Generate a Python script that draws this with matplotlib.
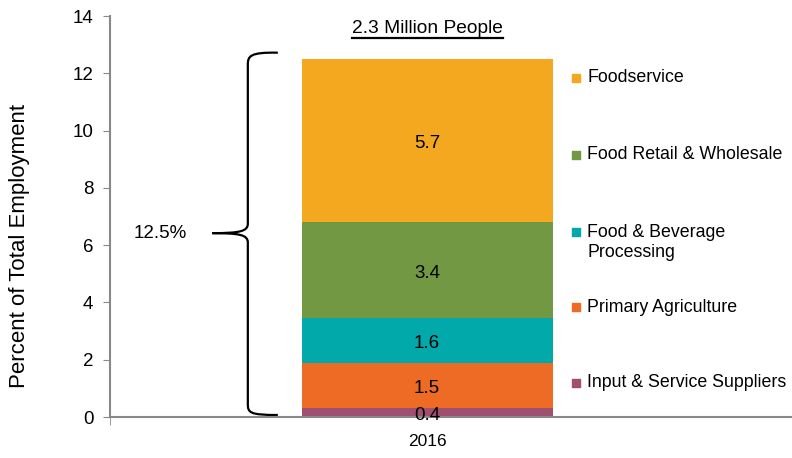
import numpy as np
import matplotlib.pyplot as plt
from matplotlib.path import Path
from matplotlib.patches import PathPatch

plt.rcParams['font.family'] = ['Liberation Sans', 'DejaVu Sans']

# data
year = '2016'
segments = ['Input & Service Suppliers', 'Primary Agriculture',
            'Food & Beverage\nProcessing', 'Food Retail & Wholesale', 'Foodservice']
heights = [0.3, 1.57, 1.58, 3.35, 5.7]
value_labels = ['0.4', '1.5', '1.6', '3.4', '5.7']
colors = ['#A0506E', '#EE6B26', '#01A9AB', '#739843', '#F3A81F']
legend_y = [1.19, 3.84, 6.1, 9.15, 11.84]
total_label = '12.5%'
title = '2.3 Million People'

fig = plt.figure(figsize=(7.92, 4.58), dpi=100)
ax = fig.add_axes([0.139, 0.0895, 0.861, 0.8755])

bar_x = 0.465
bar_w = 0.368
bottom = 0
for h, c, lab in zip(heights, colors, value_labels):
    ax.bar(bar_x, h, bar_w, bottom=bottom, color=c)
    ax.text(bar_x, bottom + h / 2 - 0.1, lab, ha='center', va='center', fontsize=13.5)
    bottom += h

ax.set_xlim(0, 1)
ax.set_ylim(0, 14)
ax.set_yticks(range(0, 15, 2))
ax.set_xticks([bar_x])
ax.set_xticklabels([year])
ax.set_xticks([0, 1], minor=True)
ax.tick_params(axis='x', which='major', length=0, labelsize=12.5, pad=12)
ax.tick_params(axis='x', which='minor', length=6, color='#888888', direction='out')
ax.tick_params(axis='y', labelsize=13.5, length=5, color='#888888', pad=7)
for s in ['top', 'right']:
    ax.spines[s].set_visible(False)
for s in ['left', 'bottom']:
    ax.spines[s].set_color('#888888')
    ax.spines[s].set_linewidth(1.5)
ax.set_ylabel('Percent of Total Employment', fontsize=16)
ax.yaxis.set_label_coords(-0.118, 0.426)

# legend drawn as markers + text
for y, c, name in zip(legend_y, colors, segments):
    ax.scatter([0.683], [y + (0.35 if '\n' in name else 0)], marker='s', s=30, color=c,
               clip_on=False)
    ax.text(0.700, y, name, ha='left', va='center', fontsize=12.8, linespacing=1.2)

# brace
verts = [(0.246, 12.72), (0.205, 12.74), (0.202, 12.6), (0.202, 12.3),
         (0.202, 6.75),
         (0.202, 6.48), (0.19, 6.42), (0.150, 6.42),
         (0.19, 6.42), (0.202, 6.36), (0.202, 6.09),
         (0.202, 0.45),
         (0.202, 0.15), (0.205, 0.07), (0.246, 0.07)]
codes = [Path.MOVETO, Path.CURVE4, Path.CURVE4, Path.CURVE4, Path.LINETO,
         Path.CURVE4, Path.CURVE4, Path.CURVE4,
         Path.CURVE4, Path.CURVE4, Path.CURVE4, Path.LINETO,
         Path.CURVE4, Path.CURVE4, Path.CURVE4]
ax.add_patch(PathPatch(Path(verts, codes), fill=False, lw=1.6, color='black', clip_on=False))
ax.text(0.074, 6.42, total_label, ha='center', va='center', fontsize=13.5)

# underlined title
t = ax.text(bar_x, 13.55, title, ha='center', va='center', fontsize=13.8)
fig.canvas.draw()
bb = t.get_window_extent().transformed(ax.transData.inverted())
ax.plot([bb.x0, bb.x1], [bb.y0 - 0.03, bb.y0 - 0.03], color='black', lw=1.6, clip_on=False)

fig.savefig('out.png', dpi=100)
